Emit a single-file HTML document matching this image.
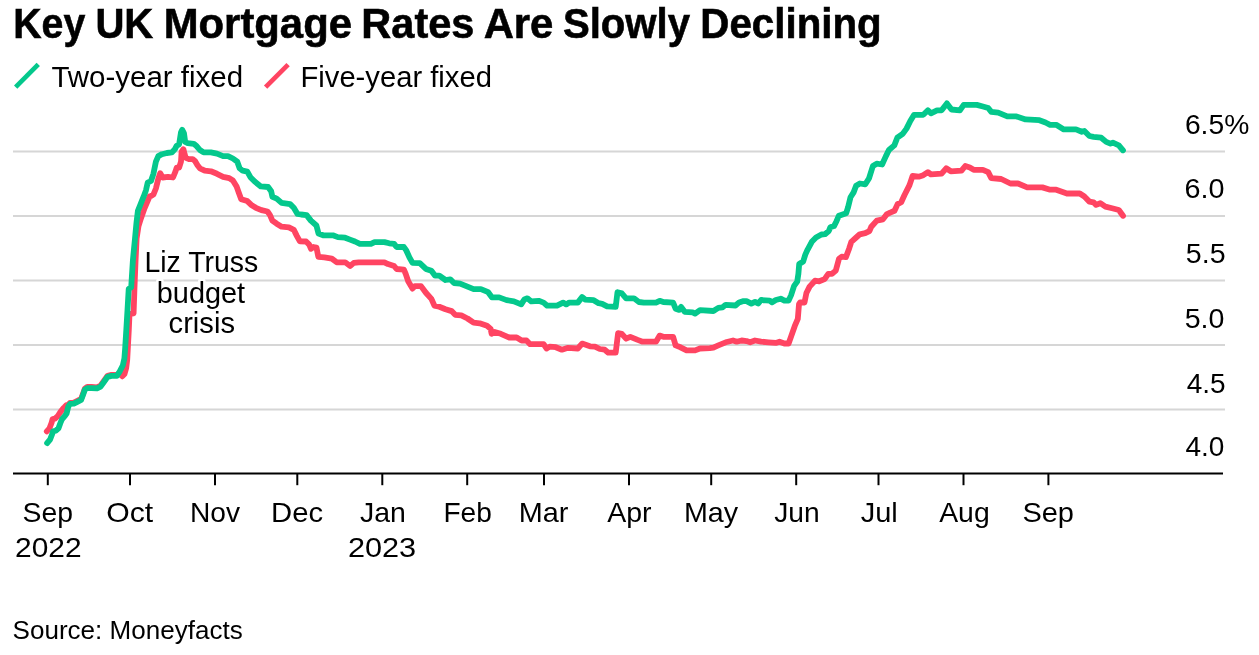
<!DOCTYPE html>
<html><head><meta charset="utf-8">
<style>
html,body{margin:0;padding:0;background:#fff;}
body{width:1259px;height:655px;overflow:hidden;position:relative;}
svg{position:absolute;left:0;top:0;}
text{font-family:"Liberation Sans",Arial,Helvetica,sans-serif;fill:#000;}
.tt{stroke:#000;stroke-width:0.6px;}
.halo{stroke:#fff;stroke-width:5px;stroke-linejoin:round;paint-order:stroke;}
</style></head>
<body>
<svg width="1259" height="655" viewBox="0 0 1259 655">
<text x="13.27" y="38" font-size="43.4" font-weight="700" class="tt" textLength="71.98" lengthAdjust="spacingAndGlyphs">Key</text>
<text x="95.38" y="38" font-size="43.4" font-weight="700" class="tt" textLength="57.87" lengthAdjust="spacingAndGlyphs">UK</text>
<text x="163.70" y="38" font-size="43.4" font-weight="700" class="tt" textLength="188.28" lengthAdjust="spacingAndGlyphs">Mortgage</text>
<text x="361.32" y="38" font-size="43.4" font-weight="700" class="tt" textLength="113.10" lengthAdjust="spacingAndGlyphs">Rates</text>
<text x="483.66" y="38" font-size="43.4" font-weight="700" class="tt" textLength="69.71" lengthAdjust="spacingAndGlyphs">Are</text>
<text x="562.89" y="38" font-size="43.4" font-weight="700" class="tt" textLength="127.10" lengthAdjust="spacingAndGlyphs">Slowly</text>
<text x="700.30" y="38" font-size="43.4" font-weight="700" class="tt" textLength="181.44" lengthAdjust="spacingAndGlyphs">Declining</text>
<line x1="15.65" y1="87.05" x2="38.25" y2="64.45" stroke="#04c88c" stroke-width="4.7"/>
<text x="51.44" y="87" font-size="29.5" textLength="191.64" lengthAdjust="spacingAndGlyphs">Two-year fixed</text>
<line x1="265.6" y1="87.1" x2="288.1" y2="64.55" stroke="#ff4462" stroke-width="4.7"/>
<text x="300.49" y="87" font-size="29.5" textLength="191.39" lengthAdjust="spacingAndGlyphs">Five-year fixed</text>
<g stroke="#d6d6d6" stroke-width="2">
<line x1="13" y1="151.4" x2="1225" y2="151.4"/>
<line x1="13" y1="215.9" x2="1225" y2="215.9"/>
<line x1="13" y1="280.4" x2="1225" y2="280.4"/>
<line x1="13" y1="344.9" x2="1225" y2="344.9"/>
<line x1="13" y1="409.6" x2="1225" y2="409.6"/>
</g>
<text x="1184.92" y="133.6" font-size="28.5" textLength="64.38" lengthAdjust="spacingAndGlyphs">6.5%</text>
<text x="1184.50" y="198.3" font-size="28.5" textLength="40.00" lengthAdjust="spacingAndGlyphs">6.0</text>
<text x="1185.85" y="262.8" font-size="28.5" textLength="39.73" lengthAdjust="spacingAndGlyphs">5.5</text>
<text x="1184.65" y="327.7" font-size="28.5" textLength="39.74" lengthAdjust="spacingAndGlyphs">5.0</text>
<text x="1186.65" y="392.6" font-size="28.5" textLength="38.90" lengthAdjust="spacingAndGlyphs">4.5</text>
<text x="1185.45" y="456.0" font-size="28.5" textLength="38.91" lengthAdjust="spacingAndGlyphs">4.0</text>
<text x="22.54" y="521.5" font-size="28.5" textLength="50.40" lengthAdjust="spacingAndGlyphs">Sep</text>
<text x="15.08" y="557.2" font-size="28.5" textLength="66.49" lengthAdjust="spacingAndGlyphs">2022</text>
<text x="106.22" y="521.5" font-size="28.5" textLength="46.93" lengthAdjust="spacingAndGlyphs">Oct</text>
<text x="189.97" y="521.5" font-size="28.5" textLength="50.05" lengthAdjust="spacingAndGlyphs">Nov</text>
<text x="271.08" y="521.5" font-size="28.5" textLength="51.99" lengthAdjust="spacingAndGlyphs">Dec</text>
<text x="359.98" y="521.5" font-size="28.5" textLength="45.87" lengthAdjust="spacingAndGlyphs">Jan</text>
<text x="347.94" y="557.2" font-size="28.5" textLength="68.23" lengthAdjust="spacingAndGlyphs">2023</text>
<text x="443.48" y="521.5" font-size="28.5" textLength="48.38" lengthAdjust="spacingAndGlyphs">Feb</text>
<text x="518.71" y="521.5" font-size="28.5" textLength="49.68" lengthAdjust="spacingAndGlyphs">Mar</text>
<text x="607.21" y="521.5" font-size="28.5" textLength="44.41" lengthAdjust="spacingAndGlyphs">Apr</text>
<text x="683.93" y="521.5" font-size="28.5" textLength="54.14" lengthAdjust="spacingAndGlyphs">May</text>
<text x="774.28" y="521.5" font-size="28.5" textLength="45.45" lengthAdjust="spacingAndGlyphs">Jun</text>
<text x="860.67" y="521.5" font-size="28.5" textLength="37.10" lengthAdjust="spacingAndGlyphs">Jul</text>
<text x="939.21" y="521.5" font-size="28.5" textLength="50.48" lengthAdjust="spacingAndGlyphs">Aug</text>
<text x="1022.41" y="521.5" font-size="28.5" textLength="51.57" lengthAdjust="spacingAndGlyphs">Sep</text>
<g stroke="#000" stroke-width="2">
<line x1="13" y1="473.6" x2="1223" y2="473.6"/>
<line x1="47.8" y1="473" x2="47.8" y2="485.2"/>
<line x1="130.0" y1="473" x2="130.0" y2="485.2"/>
<line x1="215.0" y1="473" x2="215.0" y2="485.2"/>
<line x1="297.3" y1="473" x2="297.3" y2="485.2"/>
<line x1="382.3" y1="473" x2="382.3" y2="485.2"/>
<line x1="467.2" y1="473" x2="467.2" y2="485.2"/>
<line x1="544.0" y1="473" x2="544.0" y2="485.2"/>
<line x1="629.0" y1="473" x2="629.0" y2="485.2"/>
<line x1="711.2" y1="473" x2="711.2" y2="485.2"/>
<line x1="796.2" y1="473" x2="796.2" y2="485.2"/>
<line x1="878.5" y1="473" x2="878.5" y2="485.2"/>
<line x1="963.5" y1="473" x2="963.5" y2="485.2"/>
<line x1="1048.4" y1="473" x2="1048.4" y2="485.2"/>
</g>
<g fill="none" stroke-width="5.8" stroke-linejoin="round" stroke-linecap="round">
<polyline stroke="#ff4462" points="46.8,431.4 49.5,428.3 51.6,422.8 52.6,419.1 55,418.7 57.8,416 60.5,411.9 63.3,408.4 64.6,407.1 66.6,405 68.3,404.7 70.1,402.8 73.8,402.6 77.4,400.8 81.1,398.9 82.9,394.1 84.8,388.6 87.2,387 91.5,387 97,387.3 100.6,385.5 103.9,381 107.6,375.8 111.5,374.9 116.8,374.9 119.5,373.5 122.3,376.3 124.5,374 126.2,368 127.2,360 128,345 128.8,330 129.5,314 133.6,313.3 134.4,290 135.5,262 136.6,238.5 138.5,226 141,218.2 144.6,208 149.6,196.4 151,196 153.4,194.6 155.9,188.5 158.3,178.7 160.2,173.2 162.6,177.5 168.1,176.8 173,177.5 175.5,171.3 176.7,167.7 179.1,167.7 181,161.6 181.6,151.8 183.4,149.3 184.6,154.2 185.8,157.9 188.9,159.1 192.6,159.1 195,161 197.5,165.2 199.9,168.3 204.8,170.7 210.9,171.3 217,173.8 223.1,176.8 229.2,178.1 232.9,180.5 236.6,186.6 239,193.3 241.2,199.2 247.3,201.1 251,204.7 255.9,207.8 261.4,210.2 267.5,211.5 270,215.1 272.4,220.6 276.7,223.7 281.6,226.7 288.9,227.3 293.8,229.8 296.8,235.9 299.9,241.4 306.1,241.5 309.2,244.6 311,248.8 313.4,247 316.5,247.6 318.3,256.8 324.4,257.4 331.8,258.6 336.7,262.3 345.2,262.3 350.1,266 353.8,262.9 358.7,262.3 384.4,262.3 388,264.1 394.1,266 396.6,269 403.9,269.6 405.7,273.9 408.2,281.2 412.5,288.6 414.9,286.1 421,286.1 425.9,292.8 431.4,298.9 434.4,305.6 439.3,306.8 445.5,309.3 451.6,311.1 455.2,314.8 461.3,315.4 467.5,318.5 473.6,322.7 479.7,323.3 487,325.8 490.7,328.9 491.6,333.8 494.7,332 500.8,333.8 509.3,337.5 516.7,337.5 521.6,340.5 526.5,340.5 530.1,344.2 543.6,344.2 546.6,348.5 549.7,346.6 555.8,347.2 561.9,349.7 568,347.8 577.8,348.5 582.1,343.6 590,346.3 594.9,346.6 599.8,349 604.7,349.7 608.3,352.7 615.7,352.7 618.1,333.2 621.8,333.8 626.1,338.7 630.3,336.8 637.7,339.9 642.6,341.7 656,341.7 659.7,335.6 663.3,336.8 673.1,336.8 675.6,345.4 680.5,347.3 686.6,350.4 695.1,350.4 700,348.5 709.8,348.1 713.4,347.6 718.3,345.4 725.7,342.3 733,340.5 736.7,341.7 741.6,340.5 746.5,341.1 750.1,342.3 755,340.5 761.1,341.7 768.5,342.3 775.8,342.9 779.5,341.7 784.4,343.5 788.6,343.5 791.1,336.6 794.7,326.2 797.8,318.9 799,304.2 800.2,302.4 804.5,302.5 806.4,293 809.6,286.6 815,280.7 819.2,281.3 824.6,279.1 828.3,273.8 832,273.8 835.8,270.6 839,258.8 841.7,256.7 845.9,257.2 849.1,248.7 851.3,241.8 855.6,238 859.8,234.3 865.2,233.2 869.4,231.1 871.3,226.7 876.8,220.6 882.9,219.3 886.6,214.4 890.2,212.6 894.5,210.8 897.6,204.1 901.2,202.2 904.5,195 909.5,185.1 912.6,175.9 918.7,176.7 923.3,175.2 927.9,172.1 930.9,174.4 941.6,173.6 946.2,168.3 950.8,171.3 961.5,170.6 965.3,166 969.8,167.5 973.7,169.8 982.9,169.8 988.2,172.1 991.3,178.2 1001.2,179 1010.4,183.5 1018,183.5 1027.2,187.4 1042.4,187.4 1050.1,189.7 1056.2,189.7 1066.9,193.5 1079.8,193.5 1084.4,196.5 1089.4,201.6 1093.6,202.4 1096.1,204.9 1100.3,203.2 1105.4,206.6 1112.1,208.3 1118.8,210 1123,215.8"/>
<polyline stroke="#04c88c" points="47.1,443.1 50.2,439.3 52.3,433.8 53,431.4 55.7,430.7 58.5,428.3 60.2,423.5 61.9,419.4 65.3,415.3 66.6,413.5 68.3,406.5 70.1,403.9 73.8,403.7 77.4,401.9 81.1,400 82.9,395.2 84.8,389.7 87.2,388.1 91.5,388.1 97,388.4 100.6,386.6 103.9,382 107.6,376.8 111.5,375.9 116.8,375.9 119.8,371.3 122.9,365.2 124.4,358.3 125.2,347.6 126.3,330 127.5,310 128.7,289 131.2,287.3 132.9,260.2 135,238.5 136.5,222.5 137.9,210.9 140.8,203.7 143.7,196.4 146,190.2 147.7,182.6 151,181 153.4,173.8 155.9,161.6 158.3,156.1 162,154.2 166.9,153 171.8,152.4 174.8,149.3 176.7,145.7 179.1,144.4 181,132.2 182.2,129.8 184,133.4 185.2,142 187.7,143.2 193.8,143.8 196.8,146.3 199.9,150 203.6,152.4 210.9,152.4 217,153.6 223.1,156.1 228,156.1 232.9,158.5 237.2,161.6 239.6,168.3 242.7,170.7 247.3,171.7 250.4,177.2 254.7,181.5 260.8,186.4 268.1,187 271.2,191.3 272.4,196.8 276.7,198.6 281.6,202.9 290.1,204.1 293.8,207.8 297.5,213.9 301.1,214.5 306.6,215.1 310.9,220.6 316.4,225.5 318.5,233.5 323.1,235.3 332.9,235.3 337.8,237.1 345.1,237.7 350,239.6 355,241.5 359.9,243.9 370.9,243.9 374.6,242.1 384.4,242.1 389.2,243.3 394.1,243.9 396.6,247 403.9,247 406.4,250.7 409.4,257.4 412.5,262.9 419.8,263.2 425.9,268.9 431.4,270.8 435.1,275.7 439.3,275.7 445.5,280 450.3,279.3 454,283 460.1,283.6 467.5,286.7 473.6,289.1 480.9,289.1 488.2,292.2 491.9,297.4 499.2,297.4 506.6,300.1 513.9,301.3 521.2,304.4 524.3,299.5 527.4,298.3 531.3,301.4 538.7,300.8 543.6,302.6 547.2,305.7 557,305.7 563.1,302.6 566.2,304.4 569.2,302.6 577.8,302.6 582.1,297.1 585.1,299.6 593.7,300.2 598.6,303.2 602.2,303.8 607.1,306.3 615.7,306.9 617.5,292.2 621.8,293.4 626.1,298.3 634,298.3 638.9,302 643.8,302.6 656,302.6 659.7,300.8 663.3,302 673.1,302.6 675.6,308.7 679.2,309.9 681.1,306.9 684.7,311.8 692.7,312.4 695.1,313.6 700,310.2 713.4,311 718.3,307.9 722.6,307.3 725.7,304.8 735.5,305.5 739.1,302.4 742.8,301.2 746.5,301.2 751.3,303.6 755,301.8 758.1,303.6 761.1,300 769.7,300.6 772.1,302.4 775.8,300 780.7,298.7 784.4,300.6 788.6,300.6 791.1,295.1 794.1,285.9 797.2,281.6 798.4,273.7 799.2,264 803.2,261.5 805.3,254.6 807.5,249.8 811.8,241.8 816,237.5 821.4,234.5 825,234.2 828.8,231 830.3,227.3 834,226.1 836.5,221.2 838.9,215.7 842.6,214.4 846.2,213.2 848.1,207.1 850.5,197.3 853.6,192.4 856.1,185.8 859.9,183.5 865.3,184.3 869.1,178.2 872.9,166 876.7,163.7 882.1,164.5 885.9,156.1 888.9,150 894.3,145.4 897.3,137.7 902.7,133.9 906.5,128.6 910.3,121 914.1,114.8 923.3,114.8 927.9,110.3 930.9,113.3 937,110.3 941.6,110.3 946.9,103.4 951.5,109.5 959.9,110.3 963.7,104.9 969.8,104.9 976.8,104.9 982.9,106.5 988.2,108 991.3,111.8 998.2,112.6 1007.3,116.4 1016.5,116.4 1025.6,119.4 1039.4,120.2 1045.5,122.5 1050.1,124.8 1056.2,124.8 1063.8,129.4 1076,129.4 1081.8,131.8 1084.4,131 1089.4,136 1093.6,136.8 1101.2,137.7 1106.2,141.9 1110.4,143.6 1112.9,142.7 1118.8,145.3 1123,150.3"/>
</g>
<text x="144.41" y="271.8" font-size="29" class="halo" textLength="113.91" lengthAdjust="spacingAndGlyphs">Liz Truss</text>
<text x="156.81" y="302.8" font-size="29" class="halo" textLength="88.32" lengthAdjust="spacingAndGlyphs">budget</text>
<text x="168.62" y="333.4" font-size="29" class="halo" textLength="66.34" lengthAdjust="spacingAndGlyphs">crisis</text>
<text x="12.60" y="638.6" font-size="26" textLength="230.09" lengthAdjust="spacingAndGlyphs">Source: Moneyfacts</text>
</svg>
</body></html>
